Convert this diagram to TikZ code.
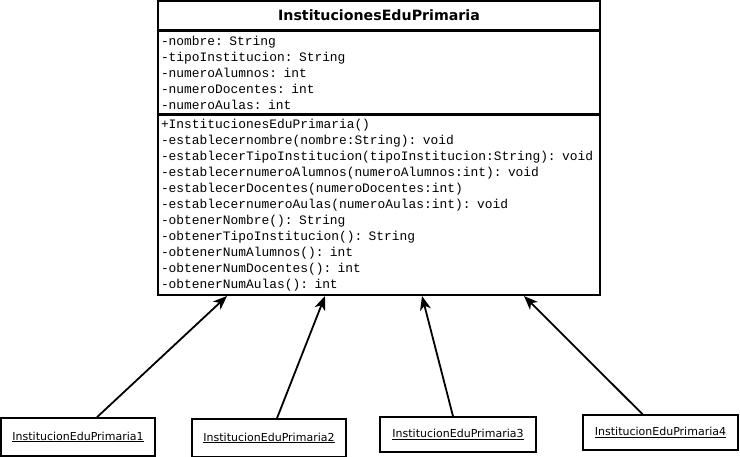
\documentclass[tikz,border=0pt]{standalone}
\usepackage{fontspec}
\newfontfamily\umlsans{DejaVu Sans}
\newfontfamily\umlmono{Liberation Mono}
\usetikzlibrary{arrows.meta, positioning}
\tikzset{
  classtitle/.style = {rectangle, draw=black, line width=1.6pt, minimum width=442pt, minimum height=29pt, inner sep=0pt, font=\umlsans\bfseries\fontsize{14.2}{16}\selectfont},
  members/.style = {rectangle, draw=black, line width=1.6pt, minimum width=442pt, inner xsep=3pt, inner ysep=0pt, text width=436pt, align=left, font=\umlmono\fontsize{12.9}{16}\selectfont},
  instance/.style = {rectangle, draw=black, line width=1.6pt, inner sep=0pt, font=\umlsans\fontsize{11}{13}\selectfont},
  line/.style = {-{Stealth[length=14pt, width=11pt, inset=4pt]}, line width=1.8pt}
}
\begin{document}
\begin{tikzpicture}[x=1pt, y=-1pt]
\useasboundingbox (0,0) rectangle (740,457);
\fill[white] (0,0) rectangle (740,457);

\node[classtitle] (cls) at (379,15.5) {InstitucionesEduPrimaria};
\node[members, minimum height=82pt, below=0pt of cls] (attr) {-nombre: String\\
-tipoInstitucion: String\\
-numeroAlumnos: int\\
-numeroDocentes: int\\
-numeroAulas: int};
\node[members, minimum height=180pt, below=0pt of attr] (meth) {+InstitucionesEduPrimaria()\\
-establecernombre(nombre:String): void\\
-establecerTipoInstitucion(tipoInstitucion:String): void\\
-establecernumeroAlumnos(numeroAlumnos:int): void\\
-establecerDocentes(numeroDocentes:int)\\
-establecernumeroAulas(numeroAulas:int): void\\
-obtenerNombre(): String\\
-obtenerTipoInstitucion(): String\\
-obtenerNumAlumnos(): int\\
-obtenerNumDocentes(): int\\
-obtenerNumAulas(): int};

\node[instance, minimum width=154pt, minimum height=38pt] (inst1) at (78,437) {\underline{InstitucionEduPrimaria1}};
\node[instance, minimum width=154pt, minimum height=38pt] (inst2) at (269,438) {\underline{InstitucionEduPrimaria2}};
\node[instance, minimum width=156pt, minimum height=35pt] (inst3) at (458,434.5) {\underline{InstitucionEduPrimaria3}};
\node[instance, minimum width=155pt, minimum height=35pt] (inst4) at (660.5,432.5) {\underline{InstitucionEduPrimaria4}};

\draw[line] ([xshift=19pt]inst1.north) -- ([xshift=-152pt]meth.south);
\draw[line] ([xshift=8pt]inst2.north) -- ([xshift=-54pt]meth.south);
\draw[line] ([xshift=-5pt]inst3.north) -- ([xshift=43pt]meth.south);
\draw[line] ([xshift=-18pt]inst4.north) -- ([xshift=145pt]meth.south);
\end{tikzpicture}
\end{document}
